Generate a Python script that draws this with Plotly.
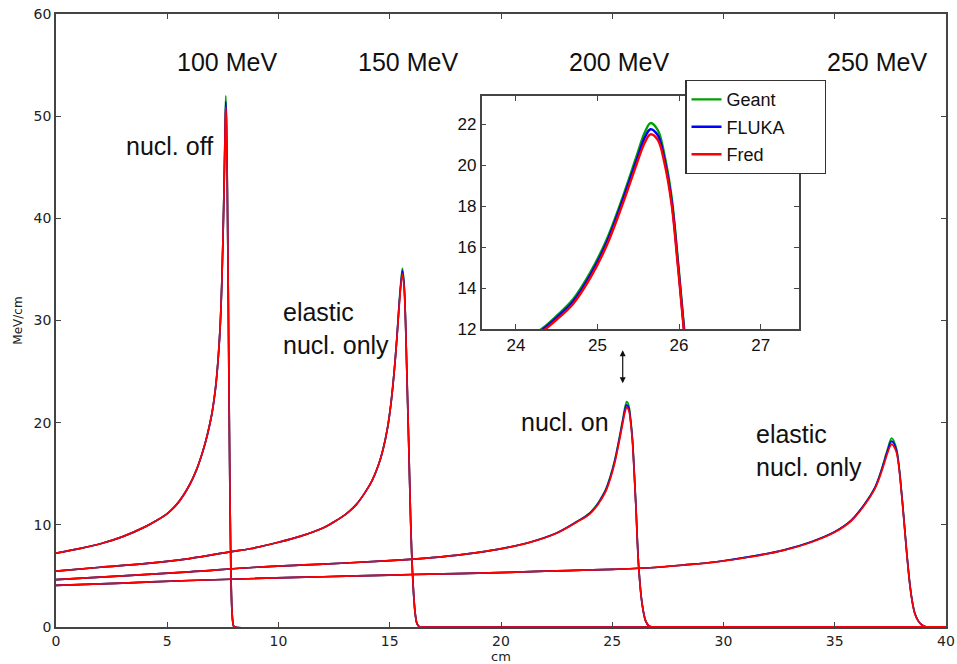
import plotly.graph_objects as go

# ---------------- data ----------------
codes = ["Geant", "FLUKA", "Fred"]
code_colors = ["#00a000", "#0000ff", "#ff0000"]

# 100 MeV, nucl. off
x100 = [0, 1, 2, 3, 4, 4.5, 5, 5.5, 6, 6.3, 6.6, 6.8, 7.0, 7.1, 7.2, 7.3, 7.38, 7.45, 7.51, 7.56,
        7.60, 7.63, 7.66, 7.70, 7.74, 7.78, 7.82, 7.86, 7.90, 7.94, 7.98, 8.05, 40]
y100_geant = [7.23, 7.65, 8.15, 8.85, 9.8, 10.4, 11.1, 12.2, 13.9, 15.3, 17.2, 18.8, 20.8, 22.2, 24.0, 26.6, 29.5, 33.5, 38.5, 44.0,
              49.0, 52.0, 50.0, 43.0, 33.0, 22.0, 12.5, 5.5, 2.0, 0.6, 0.1, 0.0, 0.0]
y100_fluka = [7.23, 7.65, 8.15, 8.85, 9.8, 10.4, 11.1, 12.2, 13.9, 15.3, 17.2, 18.8, 20.8, 22.2, 24.0, 26.6, 29.5, 33.5, 38.5, 43.8,
              48.6, 51.4, 49.6, 42.8, 33.0, 22.0, 12.5, 5.5, 2.0, 0.6, 0.1, 0.0, 0.0]
y100_fred = [7.23, 7.65, 8.15, 8.85, 9.8, 10.4, 11.1, 12.2, 13.9, 15.3, 17.2, 18.8, 20.8, 22.2, 24.0, 26.6, 29.5, 33.5, 38.5, 43.6,
             48.2, 50.9, 49.2, 42.6, 33.0, 22.0, 12.5, 5.5, 2.0, 0.6, 0.1, 0.0, 0.0]

# 150 MeV, elastic nucl. only
x150 = [0, 2, 4, 6, 7.8, 8.72, 10, 11, 12, 12.5, 13, 13.5, 13.9, 14.2, 14.5, 14.7, 14.9, 15.05, 15.2, 15.32,
        15.42, 15.5, 15.57, 15.64, 15.71, 15.78, 15.86, 15.94, 16.0, 16.08, 16.15, 16.23, 16.35, 16.6, 40]
y150_geant = [5.47, 5.85, 6.2, 6.7, 7.35, 7.66, 8.3, 8.9, 9.7, 10.3, 11.0, 12.0, 13.2, 14.3, 15.9, 17.4, 19.5, 21.8, 25.0, 28.3,
              31.6, 33.8, 35.1, 33.8, 30.0, 24.0, 17.3, 10.3, 6.5, 3.0, 1.2, 0.3, 0.0, 0.0, 0.0]
y150_fluka = [5.47, 5.85, 6.2, 6.7, 7.35, 7.66, 8.3, 8.9, 9.7, 10.3, 11.0, 12.0, 13.2, 14.3, 15.9, 17.4, 19.5, 21.8, 25.0, 28.3,
              31.5, 33.6, 34.85, 33.6, 29.9, 24.0, 17.3, 10.3, 6.5, 3.0, 1.2, 0.3, 0.0, 0.0, 0.0]
y150_fred = [5.47, 5.85, 6.2, 6.7, 7.35, 7.66, 8.3, 8.9, 9.7, 10.3, 11.0, 12.0, 13.2, 14.3, 15.9, 17.4, 19.5, 21.8, 25.0, 28.2,
             31.3, 33.4, 34.6, 33.4, 29.8, 24.0, 17.3, 10.3, 6.5, 3.0, 1.2, 0.3, 0.0, 0.0, 0.0]

# 200 MeV, nucl. on
x200 = [0, 3, 6, 9, 12, 15, 16.9, 18.4, 19.85, 21.3, 22.5, 23.4, 24.0, 24.33, 24.5, 24.7, 24.91, 25.11,
        25.31, 25.48, 25.58, 25.65, 25.74, 25.82, 25.91, 25.98, 26.06, 26.19, 26.34, 26.5, 26.65, 26.8, 27.1, 40]
y200_geant = [4.63, 5.0, 5.4, 5.85, 6.15, 6.5, 6.8, 7.14, 7.6, 8.3, 9.2, 10.3, 11.2, 12.05, 12.65, 13.45, 14.75, 16.35,
              18.45, 20.45, 21.6, 22.05, 21.7, 20.5, 18.4, 15.6, 12.1, 5.9, 2.3, 0.6, 0.1, 0.0, 0.0, 0.0]
y200_fluka = [4.63, 5.0, 5.4, 5.85, 6.15, 6.5, 6.8, 7.14, 7.6, 8.3, 9.2, 10.3, 11.15, 11.98, 12.56, 13.34, 14.62, 16.2,
              18.3, 20.25, 21.35, 21.75, 21.45, 20.3, 18.2, 15.45, 12.0, 5.85, 2.3, 0.6, 0.1, 0.0, 0.0, 0.0]
y200_fred = [4.63, 5.0, 5.4, 5.85, 6.15, 6.5, 6.8, 7.14, 7.6, 8.28, 9.17, 10.25, 11.08, 11.9, 12.46, 13.22, 14.48, 16.05,
             18.12, 20.05, 21.1, 21.5, 21.22, 20.12, 18.05, 15.3, 11.9, 5.8, 2.3, 0.6, 0.1, 0.0, 0.0, 0.0]

# 250 MeV, elastic nucl. only
x250 = [0, 3, 6, 9, 12, 15, 16.8, 19, 21, 23, 25, 26.7, 28.2, 29.7, 31.2, 32.7, 33.95, 35.0, 35.75, 36.36,
        36.81, 37.0, 37.18, 37.3, 37.41, 37.48, 37.56, 37.65, 37.72, 37.79, 37.87, 37.94, 38.09, 38.24, 38.39,
        38.5, 38.6, 38.75, 38.92, 39.14, 40]
y250_geant = [4.07, 4.3, 4.55, 4.75, 4.92, 5.08, 5.18, 5.27, 5.4, 5.52, 5.65, 5.8, 6.07, 6.39, 6.88, 7.53, 8.35, 9.33, 10.47, 12.1,
              13.7, 14.75, 16.0, 16.9, 17.7, 18.2, 18.5, 18.25, 17.85, 17.3, 16.1, 14.7, 11.1, 7.2, 3.95,
              2.3, 1.34, 0.6, 0.2, 0.0, 0.0]
y250_fluka = [4.07, 4.3, 4.55, 4.75, 4.92, 5.08, 5.18, 5.27, 5.4, 5.52, 5.65, 5.8, 6.07, 6.39, 6.88, 7.53, 8.35, 9.33, 10.47, 12.1,
              13.65, 14.7, 15.9, 16.75, 17.5, 17.95, 18.2, 18.0, 17.65, 17.15, 16.0, 14.6, 11.0, 7.15, 3.9,
              2.28, 1.32, 0.6, 0.2, 0.0, 0.0]
y250_fred = [4.07, 4.3, 4.55, 4.75, 4.92, 5.08, 5.18, 5.27, 5.4, 5.52, 5.65, 5.8, 6.05, 6.37, 6.85, 7.5, 8.3, 9.27, 10.4, 12.0,
             13.55, 14.55, 15.7, 16.55, 17.25, 17.65, 17.9, 17.7, 17.4, 16.95, 15.85, 14.5, 10.9, 7.1, 3.85,
             2.25, 1.3, 0.6, 0.2, 0.0, 0.0]

energy_labels = ["100 MeV", "150 MeV", "200 MeV", "250 MeV"]
energy_label_x = [7.7, 15.84, 25.29, 36.9]
mode_labels = ["nucl. off", "elastic<br>nucl. only", "nucl. on", "elastic<br>nucl. only"]

main_x_ticks = [0, 5, 10, 15, 20, 25, 30, 35, 40]
main_y_ticks = [0, 10, 20, 30, 40, 50, 60]
inset_x_ticks = [24, 25, 26, 27]
inset_y_ticks = [12, 14, 16, 18, 20, 22]

curves = {
    "Geant": [(x100, y100_geant), (x150, y150_geant), (x200, y200_geant), (x250, y250_geant)],
    "FLUKA": [(x100, y100_fluka), (x150, y150_fluka), (x200, y200_fluka), (x250, y250_fluka)],
    "Fred": [(x100, y100_fred), (x150, y150_fred), (x200, y200_fred), (x250, y250_fred)],
}

# ---------------- figure ----------------
fig = go.Figure()

for code, col in zip(codes, code_colors):
    for xs, ys in curves[code]:
        fig.add_trace(go.Scatter(
            x=xs, y=ys, mode="lines", xaxis="x", yaxis="y",
            line=dict(color=col, width=1.7, shape="spline", smoothing=1.0),
            showlegend=False, hoverinfo="skip"))

# inset: 200 MeV zoom
pad = "\u00a0" * 7
for code, col in zip(codes, code_colors):
    xs, ys = curves[code][2]
    fig.add_trace(go.Scatter(
        x=xs, y=ys, mode="lines", xaxis="x2", yaxis="y2", name=code + pad,
        legendgroup=code,
        line=dict(color=col, width=2.4, shape="spline", smoothing=1.0),
        showlegend=True, hoverinfo="skip"))

axis_col = "#444444"
tick_font = dict(family="DejaVu Sans", size=14, color="#222222")
inset_font = dict(family="Liberation Sans", size=17, color="#111111")

fig.update_layout(
    width=957, height=664,
    margin=dict(l=56, r=11, t=14, b=37, autoexpand=False),
    paper_bgcolor="white", plot_bgcolor="white",
    xaxis=dict(domain=[0, 1], range=[0, 40], tickvals=main_x_ticks, ticks="inside", ticklen=5,
               tickcolor=axis_col, showline=True, linecolor=axis_col, linewidth=1.5, mirror="ticks",
               showgrid=False, zeroline=False, tickfont=tick_font, automargin=False,
               title=dict(text="cm", font=dict(family="DejaVu Sans", size=13, color="#222222"), standoff=2)),
    yaxis=dict(domain=[0, 1], range=[0, 60], tickvals=main_y_ticks, ticks="inside", ticklen=5,
               tickcolor=axis_col, showline=True, linecolor=axis_col, linewidth=1.5, mirror="ticks",
               showgrid=False, zeroline=False, tickfont=tick_font, automargin=False,
               title=dict(text="MeV/cm", font=dict(family="DejaVu Sans", size=12, color="#222222"), standoff=8)),
    xaxis2=dict(domain=[0.4783, 0.8348], range=[23.58, 27.47], anchor="y2", tickvals=inset_x_ticks,
                ticks="inside", ticklen=5, tickcolor=axis_col, showline=True, linecolor=axis_col,
                linewidth=1.5, mirror="ticks", showgrid=False, zeroline=False, tickfont=inset_font,
                automargin=False),
    yaxis2=dict(domain=[0.4861, 0.8662], range=[12, 23.37], anchor="x2", tickvals=inset_y_ticks,
                ticks="inside", ticklen=5, tickcolor=axis_col, showline=True, linecolor=axis_col,
                linewidth=1.5, mirror="ticks", showgrid=False, zeroline=False, tickfont=inset_font,
                automargin=False),
    legend=dict(x=0.7071, y=0.8923, xanchor="left", yanchor="top", bgcolor="white",
                bordercolor="#333333", borderwidth=1.2, tracegroupgap=1, itemwidth=30,
                font=dict(family="Liberation Sans", size=18, color="#111111")),
    showlegend=True,
)

ann_font = dict(family="Liberation Sans", size=25, color="#111111")
for txt, xv in zip(energy_labels, energy_label_x):
    fig.add_annotation(x=xv, y=55.3, xref="x", yref="y", text=txt, showarrow=False, font=ann_font)

mode_pos = [(5.08, 47.1, "center"), (10.12, 29.2, "left"), (22.86, 20.06, "center"), (31.37, 17.3, "left")]
for txt, (xv, yv, anc) in zip(mode_labels, mode_pos):
    fig.add_annotation(x=xv, y=yv, xref="x", yref="y", text=txt, showarrow=False, font=ann_font,
                       xanchor=anc, align="left")

# double-headed arrow between inset and peak
fig.add_annotation(x=25.47, y=27.1, ax=25.47, ay=23.7, xref="x", yref="y", axref="x", ayref="y",
                   text="", showarrow=True, arrowhead=2, startarrowhead=2, arrowside="end+start",
                   arrowsize=1, startarrowsize=1, arrowwidth=1.2, arrowcolor="#111111")

fig.write_html("out.html")
